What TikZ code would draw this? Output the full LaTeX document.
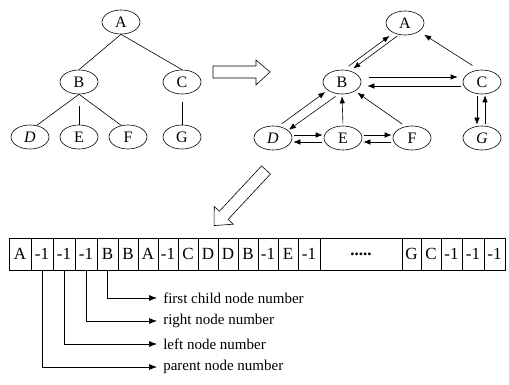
\documentclass[tikz,border=0pt]{standalone}
\usepackage{fontspec}
\setmainfont{Liberation Serif}
\usetikzlibrary{shapes.geometric,arrows.meta}
\newcommand\dotrow{\textbf{.....}}
\begin{document}
\begin{tikzpicture}[x=1pt,y=-1pt,line width=0.6pt,
  nd/.style={draw,ellipse,minimum width=38pt,minimum height=24pt,inner sep=0pt,font=\fontsize{16}{16}\selectfont},
  arr/.style={-{Latex[length=7pt,width=5.5pt]},shorten <=2pt,shorten >=1pt},
  cell/.style={draw,minimum height=32pt,inner sep=0pt,font=\fontsize{17}{17}\selectfont},
  lead/.style={-{Latex[length=8pt,width=6pt]},shorten >=6pt},
  lbl/.style={anchor=west,inner sep=0pt,font=\fontsize{15}{15}\selectfont},
  hollow/.style={draw,fill=white,line join=miter}]
  \useasboundingbox (0,0) rectangle (509,385);

  % binary tree
  \node[nd] (tA) at (121,22) {A};
  \node[nd] (tB) at (79,82) {B};
  \node[nd] (tC) at (182,82) {C};
  \node[nd] (tD) at (30,137) {\itshape D};
  \node[nd] (tE) at (79,137) {E};
  \node[nd] (tF) at (128,137) {F};
  \node[nd] (tG) at (182,137) {G};
  \draw (tA.south) -- (tB.north);
  \draw (tA.south) -- (tC.north);
  \draw (tB.south) -- (tD.60);
  \draw[shorten <=12pt] (tB.south) -- (tE.north);
  \draw (tB.south) -- (tF.120);
  \draw[shorten <=8pt] (tC.south) -- (tG.north);

  % linked tree
  \node[nd] (pA) at (405,23) {A};
  \node[nd] (pB) at (342,82) {B};
  \node[nd] (pC) at (482,82) {C};
  \node[nd] (pD) at (273,138) {\itshape D};
  \node[nd] (pE) at (343,138) {E};
  \node[nd] (pF) at (412,138) {F};
  \node[nd] (pG) at (482,138) {\itshape G};
  \draw[arr,shorten <=6pt,shorten >=5pt] (pB.82) -- (pA.221);
  \draw[arr,shorten >=4pt] (pA.243) -- (pB.54);
  \draw[arr,shorten <=8pt,shorten >=6pt] (pC.103) -- (pA.329);
  \draw[arr,shorten <=8pt,shorten >=5pt] ([yshift=5pt]pB.east) -- ([yshift=5pt]pC.west);
  \draw[arr,shorten >=6pt] ([yshift=-4pt]pC.west) -- ([yshift=-4pt]pB.east);
  \draw[arr,shorten <=4pt,shorten >=3pt] (pD.65) -- (pB.210);
  \draw[arr,shorten <=4pt] (pB.255) -- (pD.27);
  \draw[arr,shorten >=2pt] (pE.north) -- (pB.south);
  \draw[arr,shorten <=4pt,shorten >=3pt] (pF.119) -- (pB.325);
  \draw[arr] ([yshift=3pt]pD.east) -- ([yshift=3pt]pE.west);
  \draw[arr] ([yshift=-4pt]pE.west) -- ([yshift=-4pt]pD.east);
  \draw[arr] ([yshift=3pt]pE.east) -- ([yshift=3pt]pF.west);
  \draw[arr] ([yshift=-4pt]pF.west) -- ([yshift=-4pt]pE.east);
  \draw[arr] ([xshift=-5pt]pC.south) -- ([xshift=-5pt]pG.north);
  \draw[arr] ([xshift=3pt]pG.north) -- ([xshift=3pt]pC.south);

  % hollow arrows
  \draw[hollow] (213,66) -- (256,66) -- (256,60) -- (270,72) -- (256,85) -- (256,78) -- (213,78) -- cycle;
  \begin{scope}[shift={(266,170)},rotate=227]
    \draw[hollow] (0,-6) -- (62,-6) -- (62,-13) -- (76,0) -- (62,13) -- (62,6) -- (0,6) -- cycle;
  \end{scope}

  % array
  \foreach \l/\r/\t [count=\i] in {9/31/A,31/53/-1,53/75/-1,75/97/-1,97/118/B,118/138/B,
      138/158/A,158/178/-1,178/198/C,198/218/D,218/238/D,238/258/B,258/278/-1,278/298/E,
      298/320/-1,320/402/\dotrow,402/421/G,421/441/C,441/462/-1,462/484/-1,484/505/-1}
    \node[cell,minimum width={(\r-\l)*1pt}] (c\i) at ({(\l+\r)/2},254) {\t};

  \node[lbl] (t1) at (163,298) {first child node number};
  \node[lbl] (t2) at (163,321) {right node number};
  \node[lbl] (t3) at (163,344) {left node number};
  \node[lbl] (t4) at (163,367) {parent node number};
  \draw[lead] (c5.south) |- (t1.west);
  \draw[lead] (c4.south) |- (t2.west);
  \draw[lead] (c3.south) |- (t3.west);
  \draw[lead] (c2.south) |- (t4.west);
\end{tikzpicture}
\end{document}
